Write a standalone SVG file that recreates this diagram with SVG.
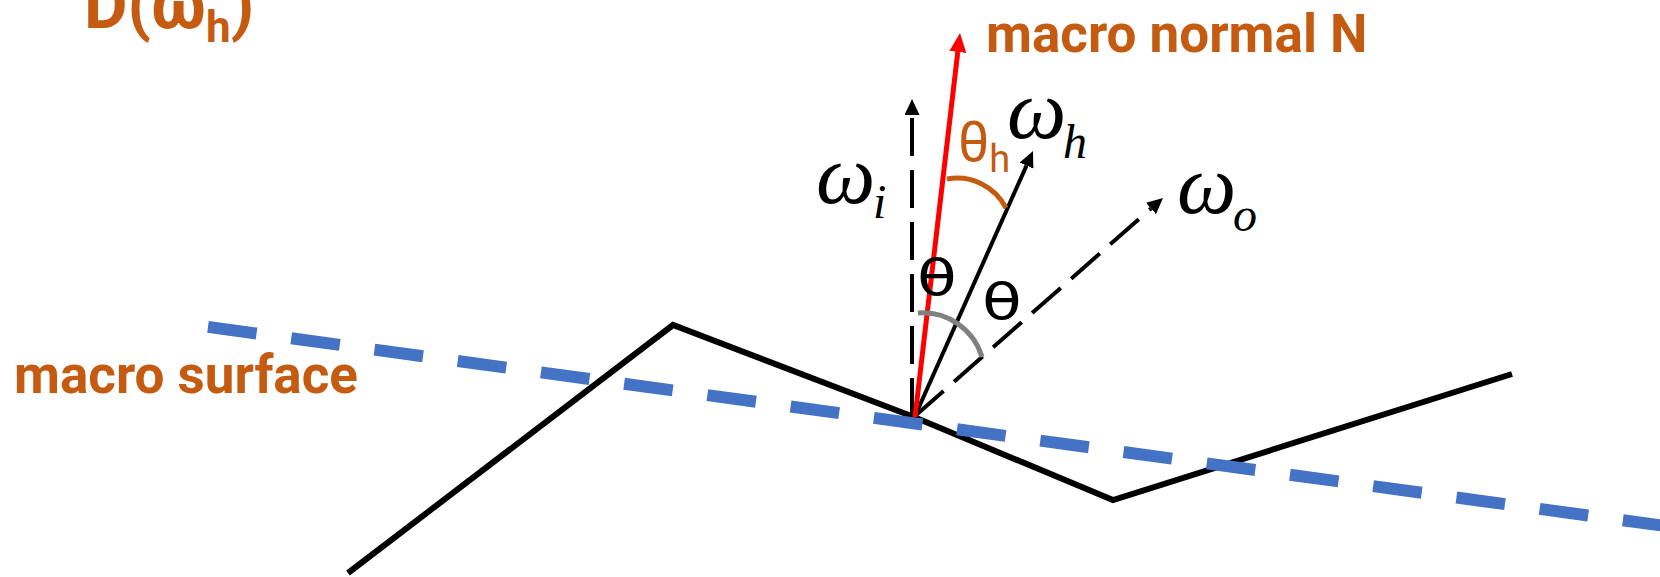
<svg xmlns="http://www.w3.org/2000/svg" width="1660" height="577" viewBox="0 0 1660 577">
  <style>
    .lbl { font-family: Roboto, "Liberation Sans", sans-serif; font-weight: bold; fill: #C55A11; font-size: 53px; }
    .big { font-size: 67px; }
    .sub { font-size: 44px; }
    .math { font-family: "Liberation Serif", "Times New Roman", serif; font-style: italic; fill: #000; }
    .th { font-family: "DejaVu Sans", "Liberation Sans", sans-serif; fill: #000; font-size: 50px; }
    .thh { font-family: Roboto, "Liberation Sans", sans-serif; fill: #C55A11; }
    .vec { stroke: #000; stroke-width: 4; fill: none; }
    .dash { stroke-dasharray: 38 14; }
  </style>
  <defs>
    <marker id="ab" markerUnits="userSpaceOnUse" markerWidth="17" markerHeight="16" refX="0" refY="7.5" orient="auto">
      <path d="M0,0 L16,7.5 L0,15 z" fill="#000"/>
    </marker>
    <marker id="ar" markerUnits="userSpaceOnUse" markerWidth="20" markerHeight="18" refX="0" refY="8.5" orient="auto">
      <path d="M0,0 L19,8.5 L0,17 z" fill="#FF0000"/>
    </marker>
  </defs>

  <g id="surface">
    <polyline points="348,573 673,325 914,417 1113,500 1512,374" fill="none" stroke="#000" stroke-width="6" stroke-linejoin="miter"/>
  </g>

  <g id="macro-surface-line">
    <line x1="208" y1="326.9" x2="1665" y2="526" stroke="#4472C4" stroke-width="12" stroke-dasharray="49 35"/>
  </g>

  <g id="connectors">
    <line id="wi" class="vec dash" x1="912" y1="416" x2="912" y2="115" marker-end="url(#ab)"/>
    <line id="wo" class="vec dash" x1="915" y1="416" x2="1151" y2="208.5" marker-end="url(#ab)"/>
    <line id="wh" class="vec" x1="915" y1="416" x2="1026.5" y2="165.6" marker-end="url(#ab)"/>
    <line id="N" x1="915" y1="417" x2="957.8" y2="51.9" stroke="#FF0000" stroke-width="5" marker-end="url(#ar)"/>
  </g>

  <g id="angles">
    <path d="M918,313 A62,62 0 0 1 982,357" fill="none" stroke="#808080" stroke-width="5"/>
    <path d="M947,179 A55,55 0 0 1 1006,208" fill="none" stroke="#C55A11" stroke-width="5"/>
  </g>

  <g id="labels">
    <text class="lbl big" x="84" y="28">D(ω<tspan class="sub" dy="14">h</tspan><tspan dy="-14">)</tspan></text>
    <text class="lbl" x="986" y="52">macro normal N</text>
    <text class="lbl" x="14" y="393">macro surface</text>

    <text class="math" x="816" y="203" font-size="84">ω</text>
    <text class="math" x="873" y="218" font-size="48">i</text>
    <text class="math" x="1007" y="138" font-size="84">ω</text>
    <text class="math" x="1063" y="158" font-size="48">h</text>
    <text class="math" x="1177" y="213" font-size="84">ω</text>
    <text class="math" x="1233" y="231" font-size="48">o</text>

    <text class="thh" x="958" y="161" font-size="55">θ<tspan font-size="38" dy="11">h</tspan></text>
    <text class="th" transform="translate(917,295) scale(1.3,1)">θ</text>
    <text class="th" transform="translate(982,319) scale(1.3,1)">θ</text>
  </g>
</svg>
